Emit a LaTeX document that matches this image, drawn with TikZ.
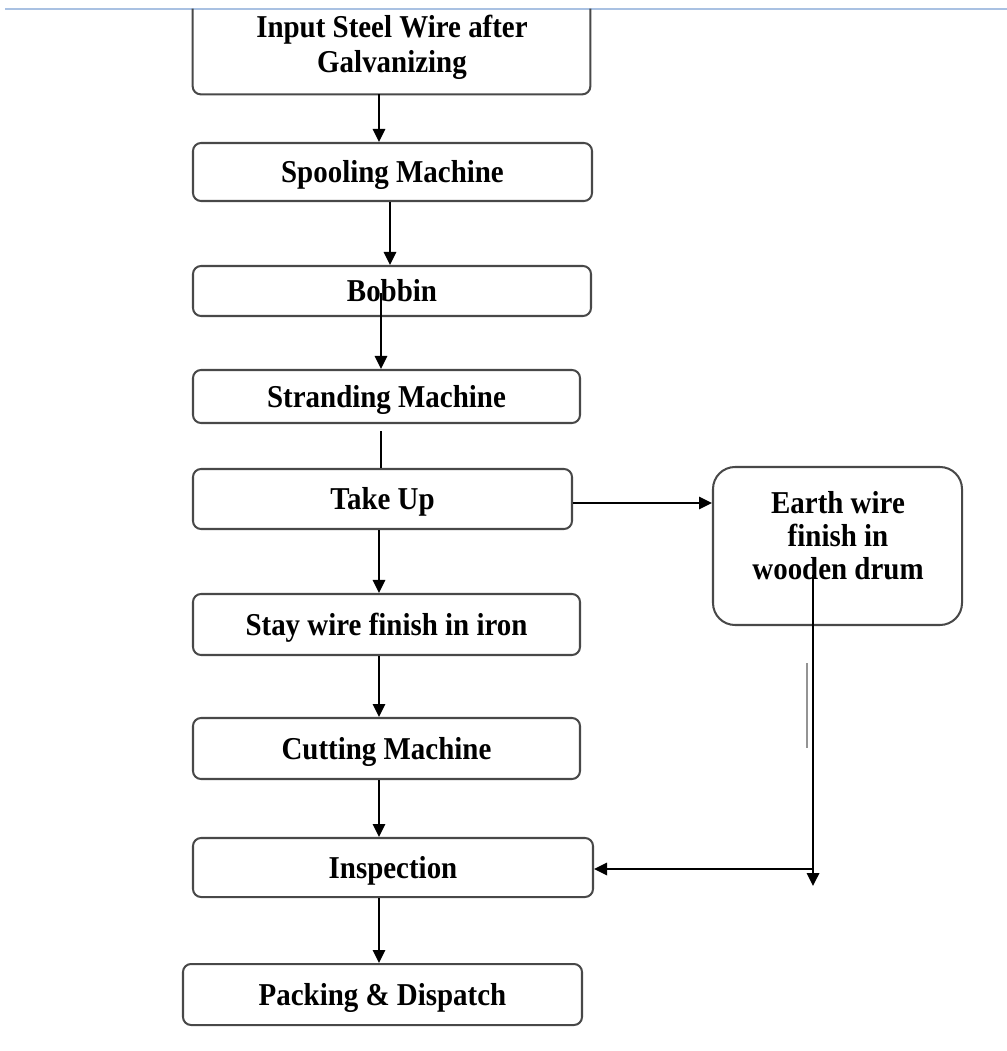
\documentclass[tikz,border=0pt]{standalone}
\usepackage{fontspec}
\setmainfont{Liberation Serif}[FakeStretch=0.91]
\usetikzlibrary{arrows.meta}
\definecolor{rulecol}{HTML}{A9C1E2}
\definecolor{boxline}{HTML}{484848}
\begin{document}
\begin{tikzpicture}[x=0.02cm,y=-0.02cm,
  txt/.style={font=\fontsize{18.1}{19.8}\selectfont\bfseries,align=center},
  stepbox/.style={txt,draw=boxline,line width=1.15pt,rounded corners=0.16cm,inner sep=0pt,
    text height=13.5pt,text depth=1.5pt},
  plainbox/.style={draw=none,inner sep=0pt},
  lbl/.style={txt,inner sep=0pt},
  arr/.style={line width=1pt,-{Triangle[length=0.26cm,width=0.25cm]}},
  ln/.style={line width=1pt}]
\useasboundingbox (0,0) rectangle (1007,1051);

% top rule of the page
\draw[rulecol,line width=1.4pt] (5,9) -- (1007,9);

% first block, its top runs under the rule
\node[plainbox,minimum width=397*0.02cm,minimum height=85*0.02cm] (input) at (391.5,51.5) {};
\draw[boxline,line width=1.15pt,rounded corners=0.16cm]
  (input.north west) -- (input.south west) -- (input.south east) -- (input.north east);
\node[lbl] (inputlbl) at (392,47) {Input Steel Wire after\\Galvanizing};

% main column of process steps
\node[stepbox,minimum width=399*0.02cm,minimum height=58*0.02cm] (spool) at (392.5,172) {Spooling Machine};
\node[stepbox,minimum width=398*0.02cm,minimum height=50*0.02cm] (bobbin) at (392,291) {Bobbin};
\node[stepbox,minimum width=387*0.02cm,minimum height=53*0.02cm] (strand) at (386.5,396.5) {Stranding Machine};
\node[stepbox,minimum width=379*0.02cm,minimum height=60*0.02cm] (takeup) at (382.5,499) {Take Up};
\node[stepbox,minimum width=387*0.02cm,minimum height=61*0.02cm] (stay) at (386.5,624.5) {Stay wire finish in iron};
\node[stepbox,minimum width=387*0.02cm,minimum height=61*0.02cm] (cut) at (386.5,748.5) {Cutting Machine};
\node[stepbox,minimum width=400*0.02cm,minimum height=59*0.02cm] (insp) at (393,867.5) {Inspection};
\node[stepbox,minimum width=399*0.02cm,minimum height=61*0.02cm] (pack) at (382.5,994.5) {Packing \& Dispatch};

% side branch
\node[draw=boxline,line width=1.15pt,rounded corners=0.44cm,inner sep=0pt,
  minimum width=249*0.02cm,minimum height=158*0.02cm] (earth) at (837.5,546) {};
\node[lbl,font=\fontsize{18.1}{18.7}\selectfont\bfseries] (earthlbl) at (838,536)
  {Earth wire\\finish in\\wooden drum};

% connector columns
\coordinate (xa) at (379,0);
\coordinate (xb) at (390,0);
\coordinate (xc) at (381,0);
\coordinate (bobmid) at (381,293);
\coordinate (strandgap) at (381,431);
\coordinate (earthstart) at (813,575);
\coordinate (earthend) at (813,886);
\coordinate (joinpt) at (813,869);

\draw[arr] (input.south -| xa) -- (spool.north -| xa);
\draw[arr] (spool.south -| xb) -- (bobbin.north -| xb);
\draw[arr] (bobmid) -- (strand.north -| xc);
\draw[ln] (strandgap) -- (takeup.north -| xc);
\draw[arr] (takeup.east |- 0,503) -- (earth.west |- 0,503);
\draw[arr] (takeup.south -| xa) -- (stay.north -| xa);
\draw[arr] (stay.south -| xa) -- (cut.north -| xa);
\draw[arr] (cut.south -| xa) -- (insp.north -| xa);
\draw[arr] (insp.south -| xa) -- (pack.north -| xa);

% return path from the side branch
\draw[arr] (earthstart) -- (earthend);
\draw[arr] (joinpt) -- (insp.east |- joinpt);
\draw[black!42,line width=1.6pt] (807,663) -- (807,748);
\end{tikzpicture}
\end{document}
